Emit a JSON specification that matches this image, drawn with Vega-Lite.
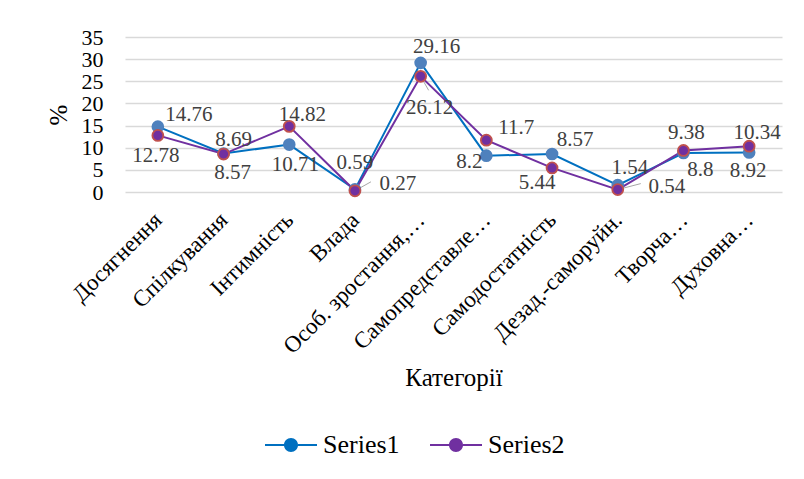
{
  "$schema": "https://vega.github.io/schema/vega-lite/v6.json",
  "autosize": {"type": "none"},
  "width": 657,
  "height": 155,
  "padding": {"left": 125, "top": 37, "right": 22, "bottom": 287},
  "background": "white",
  "config": {
    "font": "Liberation Serif",
    "axis": {"labelFont": "Liberation Serif", "titleFont": "Liberation Serif"},
    "legend": {"labelFont": "Liberation Serif"},
    "text": {"font": "Liberation Serif"},
    "view": {"stroke": null}
  },
  "data": {"values": [
    {"cat": "Досягнення", "series": "Series1", "value": 14.76},
    {"cat": "Спілкування", "series": "Series1", "value": 8.69},
    {"cat": "Інтимність", "series": "Series1", "value": 10.71},
    {"cat": "Влада", "series": "Series1", "value": 0.59},
    {"cat": "Особ. зростання,…", "series": "Series1", "value": 29.16},
    {"cat": "Самопредставле…", "series": "Series1", "value": 8.2},
    {"cat": "Самодостатність", "series": "Series1", "value": 8.57},
    {"cat": "Дезад.-саморуйн.", "series": "Series1", "value": 1.54},
    {"cat": "Творча…", "series": "Series1", "value": 8.8},
    {"cat": "Духовна…", "series": "Series1", "value": 8.92},
    {"cat": "Досягнення", "series": "Series2", "value": 12.78},
    {"cat": "Спілкування", "series": "Series2", "value": 8.57},
    {"cat": "Інтимність", "series": "Series2", "value": 14.82},
    {"cat": "Влада", "series": "Series2", "value": 0.27},
    {"cat": "Особ. зростання,…", "series": "Series2", "value": 26.12},
    {"cat": "Самопредставле…", "series": "Series2", "value": 11.7},
    {"cat": "Самодостатність", "series": "Series2", "value": 5.44},
    {"cat": "Дезад.-саморуйн.", "series": "Series2", "value": 0.54},
    {"cat": "Творча…", "series": "Series2", "value": 9.38},
    {"cat": "Духовна…", "series": "Series2", "value": 10.34}
  ]},
  "encoding": {
    "x": {
      "field": "cat", "type": "nominal",
      "sort": ["Досягнення", "Спілкування", "Інтимність", "Влада", "Особ. зростання,…", "Самопредставле…", "Самодостатність", "Дезад.-саморуйн.", "Творча…", "Духовна…"],
      "scale": {"type": "point", "padding": 0.5},
      "axis": {
        "title": "Категорії", "titleFont": "Liberation Serif", "titleFontSize": 25, "titleFontWeight": "normal", "titleColor": "#000000",
        "titleX": 328.5, "titleY": 185, "titleBaseline": "middle", "titleAlign": "center",
        "labelAngle": -45, "labelAlign": "right", "labelBaseline": "middle", "labelDx": 9,
        "labelFont": "Liberation Serif", "labelFontSize": 23, "labelColor": "#000000", "labelPadding": 24,
        "labelOverlap": false, "labelLimit": 300, "ticks": false, "domain": false, "grid": false
      }
    },
    "y": {
      "field": "value", "type": "quantitative",
      "scale": {"domain": [0, 35], "nice": false},
      "axis": {
        "title": "%", "titleFont": "Liberation Serif", "titleFontSize": 25, "titleFontWeight": "normal", "titleColor": "#000000",
        "titleX": -67, "titleY": 77.5, "titleAngle": -90, "titleAlign": "center", "titleBaseline": "middle",
        "values": [0, 5, 10, 15, 20, 25, 30, 35],
        "labelFont": "Liberation Serif", "labelFontSize": 22, "labelColor": "#000000", "labelPadding": 22,
        "domain": false, "ticks": false, "gridColor": "#D9D9D9", "gridWidth": 1.3
      }
    }
  },
  "layer": [
    {
      "mark": {"type": "line", "strokeWidth": 2},
      "encoding": {
        "color": {
          "field": "series", "type": "nominal",
          "scale": {"domain": ["Series1", "Series2"], "range": ["#0070C0", "#7030A0"]},
          "legend": {
            "orient": "none", "legendX": 140, "legendY": 382, "direction": "horizontal", "title": null,
            "labelFontSize": 26, "labelColor": "#000000", "labelFont": "Liberation Serif",
            "columnPadding": 30, "labelOffset": 6, "symbolSize": 2700, "symbolStrokeWidth": 0,
            "symbolType": "M-1,-0.04L-0.27,-0.04L-0.27,0.04L-1,0.04Z M0.27,-0.04L1,-0.04L1,0.04L0.27,0.04Z M-0.27,0A0.27,0.27 0 1,0 0.27,0A0.27,0.27 0 1,0 -0.27,0Z",
            "encode": {"symbols": {"update": {"fill": {"scale": "color", "field": "value"}, "strokeWidth": {"value": 0}}}}
          }
        }
      }
    },
    {
      "transform": [{"filter": "(datum.series=='Series2' && (datum.cat=='Влада'))"}],
      "mark": {"type": "rule", "color": "#A6A6A6", "strokeWidth": 1, "x2Offset": 16, "y2Offset": -9},
      "encoding": {"x2": {"field": "cat"}, "y2": {"field": "value"}}
    },
    {
      "transform": [{"filter": "(datum.series=='Series2' && (datum.cat=='Особ. зростання,…'))"}],
      "mark": {"type": "rule", "color": "#A6A6A6", "strokeWidth": 1, "x2Offset": 8, "y2Offset": 14},
      "encoding": {"x2": {"field": "cat"}, "y2": {"field": "value"}}
    },
    {
      "transform": [{"filter": "(datum.series=='Series2' && (datum.cat=='Дезад.-саморуйн.'))"}],
      "mark": {"type": "rule", "color": "#A6A6A6", "strokeWidth": 1, "x2Offset": 23, "y2Offset": -6},
      "encoding": {"x2": {"field": "cat"}, "y2": {"field": "value"}}
    },
    {
      "transform": [{"filter": "datum.series=='Series1'"}],
      "mark": {"type": "point", "shape": "circle", "filled": true, "size": 160, "fill": "#4F81BD", "opacity": 1, "strokeWidth": 0}
    },
    {
      "transform": [{"filter": "datum.series=='Series2'"}],
      "mark": {"type": "point", "shape": "circle", "filled": true, "size": 120, "fill": "#7030A0", "stroke": "#C0504D", "strokeWidth": 1.8, "opacity": 1, "strokeOpacity": 1}
    },
    {"transform": [{"filter": "datum.series=='Series1' && datum.cat=='Досягнення'"}], "mark": {"type": "text", "font": "Liberation Serif", "dx": 31, "dy": -12, "fontSize": 21, "fill": "#404040", "baseline": "middle"}, "encoding": {"text": {"field": "value", "type": "nominal"}}},
    {"transform": [{"filter": "datum.series=='Series1' && datum.cat=='Спілкування'"}], "mark": {"type": "text", "font": "Liberation Serif", "dx": 10, "dy": -14, "fontSize": 21, "fill": "#404040", "baseline": "middle"}, "encoding": {"text": {"field": "value", "type": "nominal"}}},
    {"transform": [{"filter": "datum.series=='Series1' && datum.cat=='Інтимність'"}], "mark": {"type": "text", "font": "Liberation Serif", "dx": 6, "dy": 20, "fontSize": 21, "fill": "#404040", "baseline": "middle"}, "encoding": {"text": {"field": "value", "type": "nominal"}}},
    {"transform": [{"filter": "datum.series=='Series1' && datum.cat=='Влада'"}], "mark": {"type": "text", "font": "Liberation Serif", "dx": 0, "dy": -26, "fontSize": 21, "fill": "#404040", "baseline": "middle"}, "encoding": {"text": {"field": "value", "type": "nominal"}}},
    {"transform": [{"filter": "datum.series=='Series1' && datum.cat=='Особ. зростання,…'"}], "mark": {"type": "text", "font": "Liberation Serif", "dx": 16, "dy": -16, "fontSize": 21, "fill": "#404040", "baseline": "middle"}, "encoding": {"text": {"field": "value", "type": "nominal"}}},
    {"transform": [{"filter": "datum.series=='Series1' && datum.cat=='Самопредставле…'"}], "mark": {"type": "text", "font": "Liberation Serif", "dx": -17, "dy": 6, "fontSize": 21, "fill": "#404040", "baseline": "middle"}, "encoding": {"text": {"field": "value", "type": "nominal"}}},
    {"transform": [{"filter": "datum.series=='Series1' && datum.cat=='Самодостатність'"}], "mark": {"type": "text", "font": "Liberation Serif", "dx": 23, "dy": -14, "fontSize": 21, "fill": "#404040", "baseline": "middle"}, "encoding": {"text": {"field": "value", "type": "nominal"}}},
    {"transform": [{"filter": "datum.series=='Series1' && datum.cat=='Дезад.-саморуйн.'"}], "mark": {"type": "text", "font": "Liberation Serif", "dx": 12, "dy": -17, "fontSize": 21, "fill": "#404040", "baseline": "middle"}, "encoding": {"text": {"field": "value", "type": "nominal"}}},
    {"transform": [{"filter": "datum.series=='Series1' && datum.cat=='Творча…'"}], "mark": {"type": "text", "font": "Liberation Serif", "dx": 17, "dy": 17, "fontSize": 21, "fill": "#404040", "baseline": "middle"}, "encoding": {"text": {"field": "value", "type": "nominal"}}},
    {"transform": [{"filter": "datum.series=='Series1' && datum.cat=='Духовна…'"}], "mark": {"type": "text", "font": "Liberation Serif", "dx": -1, "dy": 19, "fontSize": 21, "fill": "#404040", "baseline": "middle"}, "encoding": {"text": {"field": "value", "type": "nominal"}}},
    {"transform": [{"filter": "datum.series=='Series2' && datum.cat=='Досягнення'"}], "mark": {"type": "text", "font": "Liberation Serif", "dx": -2, "dy": 21, "fontSize": 21, "fill": "#404040", "baseline": "middle"}, "encoding": {"text": {"field": "value", "type": "nominal"}}},
    {"transform": [{"filter": "datum.series=='Series2' && datum.cat=='Спілкування'"}], "mark": {"type": "text", "font": "Liberation Serif", "dx": 9, "dy": 19, "fontSize": 21, "fill": "#404040", "baseline": "middle"}, "encoding": {"text": {"field": "value", "type": "nominal"}}},
    {"transform": [{"filter": "datum.series=='Series2' && datum.cat=='Інтимність'"}], "mark": {"type": "text", "font": "Liberation Serif", "dx": 13, "dy": -11, "fontSize": 21, "fill": "#404040", "baseline": "middle"}, "encoding": {"text": {"field": "value", "type": "nominal"}}},
    {"transform": [{"filter": "datum.series=='Series2' && datum.cat=='Влада'"}], "mark": {"type": "text", "font": "Liberation Serif", "dx": 43, "dy": -7, "fontSize": 21, "fill": "#404040", "baseline": "middle"}, "encoding": {"text": {"field": "value", "type": "nominal"}}},
    {"transform": [{"filter": "datum.series=='Series2' && datum.cat=='Особ. зростання,…'"}], "mark": {"type": "text", "font": "Liberation Serif", "dx": 9, "dy": 32, "fontSize": 21, "fill": "#404040", "baseline": "middle"}, "encoding": {"text": {"field": "value", "type": "nominal"}}},
    {"transform": [{"filter": "datum.series=='Series2' && datum.cat=='Самопредставле…'"}], "mark": {"type": "text", "font": "Liberation Serif", "dx": 30, "dy": -12, "fontSize": 21, "fill": "#404040", "baseline": "middle"}, "encoding": {"text": {"field": "value", "type": "nominal"}}},
    {"transform": [{"filter": "datum.series=='Series2' && datum.cat=='Самодостатність'"}], "mark": {"type": "text", "font": "Liberation Serif", "dx": -15, "dy": 15, "fontSize": 21, "fill": "#404040", "baseline": "middle"}, "encoding": {"text": {"field": "value", "type": "nominal"}}},
    {"transform": [{"filter": "datum.series=='Series2' && datum.cat=='Дезад.-саморуйн.'"}], "mark": {"type": "text", "font": "Liberation Serif", "dx": 49, "dy": -3, "fontSize": 21, "fill": "#404040", "baseline": "middle"}, "encoding": {"text": {"field": "value", "type": "nominal"}}},
    {"transform": [{"filter": "datum.series=='Series2' && datum.cat=='Творча…'"}], "mark": {"type": "text", "font": "Liberation Serif", "dx": 3, "dy": -17, "fontSize": 21, "fill": "#404040", "baseline": "middle"}, "encoding": {"text": {"field": "value", "type": "nominal"}}},
    {"transform": [{"filter": "datum.series=='Series2' && datum.cat=='Духовна…'"}], "mark": {"type": "text", "font": "Liberation Serif", "dx": 8, "dy": -13, "fontSize": 21, "fill": "#404040", "baseline": "middle"}, "encoding": {"text": {"field": "value", "type": "nominal"}}}
  ]
}
